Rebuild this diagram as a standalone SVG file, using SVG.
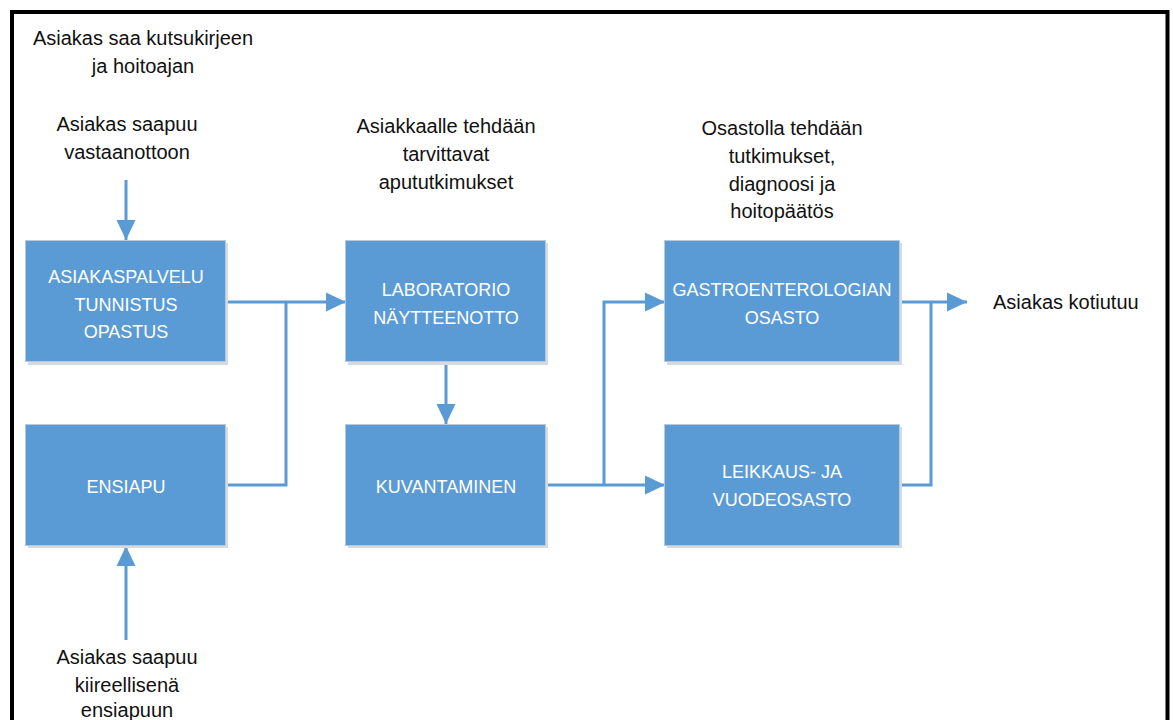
<svg xmlns="http://www.w3.org/2000/svg" width="1173" height="720" viewBox="0 0 1173 720">
  <defs>
    <marker id="arrow" markerUnits="userSpaceOnUse" markerWidth="20" markerHeight="20" viewBox="0 0 20 20" refX="20" refY="10" orient="auto">
      <path d="M0,0.5 L20,10 L0,19.5 Z" fill="#5b9bd5"/>
    </marker>
  </defs>
  <style>
    .box { fill: #5b9bd5; stroke: #b7c9dc; stroke-width: 1; }
    .shadow { fill: #d6d9de; }
    .btxt { font-family: "Liberation Sans", Arial, sans-serif; font-size: 18px; fill: #ffffff; text-anchor: middle; }
    .ltxt { font-family: "Liberation Sans", Arial, sans-serif; font-size: 20px; fill: #111111; text-anchor: middle; }
    .start { text-anchor: start; }
    .conn { fill: none; stroke: #5b9bd5; stroke-width: 3; }
  </style>
  <rect width="1173" height="720" fill="#ffffff"/>
  <!-- outer frame, open at the bottom edge -->
  <path d="M12,740 L12,12 L1167.5,12 L1167.5,740" fill="none" stroke="#000000" stroke-width="4"/>

  <!-- free-standing labels -->
  <g id="labels">
    <text class="ltxt" x="143" y="45">Asiakas saa kutsukirjeen</text>
    <text class="ltxt" x="143" y="73">ja hoitoajan</text>
    <text class="ltxt" x="127" y="131">Asiakas saapuu</text>
    <text class="ltxt" x="127" y="159">vastaanottoon</text>
    <text class="ltxt" x="446" y="133">Asiakkaalle tehdään</text>
    <text class="ltxt" x="446" y="161">tarvittavat</text>
    <text class="ltxt" x="446" y="189">apututkimukset</text>
    <text class="ltxt" x="782" y="135">Osastolla tehdään</text>
    <text class="ltxt" x="782" y="163">tutkimukset,</text>
    <text class="ltxt" x="782" y="191">diagnoosi ja</text>
    <text class="ltxt" x="782" y="218">hoitopäätös</text>
    <text class="ltxt start" x="993" y="309">Asiakas kotiutuu</text>
    <text class="ltxt" x="127" y="664">Asiakas saapuu</text>
    <text class="ltxt" x="127" y="692">kiireellisenä</text>
    <text class="ltxt" x="127" y="717">ensiapuun</text>
  </g>

  <!-- connectors -->
  <g id="connectors">
    <path class="conn" d="M126,180 L126,240" marker-end="url(#arrow)"/>
    <path class="conn" d="M126,640 L126,546" marker-end="url(#arrow)"/>
    <path class="conn" d="M226,302 L346,302" marker-end="url(#arrow)"/>
    <path class="conn" d="M226,485 L286,485 L286,302"/>
    <path class="conn" d="M446,362 L446,424" marker-end="url(#arrow)"/>
    <path class="conn" d="M546,485 L665,485" marker-end="url(#arrow)"/>
    <path class="conn" d="M604,485 L604,302 L665,302" marker-end="url(#arrow)"/>
    <path class="conn" d="M900,302 L967,302" marker-end="url(#arrow)"/>
    <path class="conn" d="M900,485 L931,485 L931,302"/>
  </g>

  <!-- nodes -->
  <g id="node-asiakaspalvelu">
    <rect class="shadow" x="28" y="243" width="200" height="122"/>
    <rect class="box" x="25.5" y="240.5" width="200" height="121"/>
    <text class="btxt" x="126" y="283">ASIAKASPALVELU</text>
    <text class="btxt" x="126" y="311">TUNNISTUS</text>
    <text class="btxt" x="126" y="338">OPASTUS</text>
  </g>
  <g id="node-ensiapu">
    <rect class="shadow" x="28" y="427" width="200" height="121"/>
    <rect class="box" x="25.5" y="424.5" width="200" height="121"/>
    <text class="btxt" x="126" y="493">ENSIAPU</text>
  </g>
  <g id="node-laboratorio">
    <rect class="shadow" x="348" y="243" width="200" height="122"/>
    <rect class="box" x="345.5" y="240.5" width="200" height="121"/>
    <text class="btxt" x="446" y="296">LABORATORIO</text>
    <text class="btxt" x="446" y="324">NÄYTTEENOTTO</text>
  </g>
  <g id="node-kuvantaminen">
    <rect class="shadow" x="348" y="427" width="200" height="121"/>
    <rect class="box" x="345.5" y="424.5" width="200" height="121"/>
    <text class="btxt" x="446" y="493">KUVANTAMINEN</text>
  </g>
  <g id="node-gastro">
    <rect class="shadow" x="667" y="243" width="235" height="122"/>
    <rect class="box" x="664.5" y="240.5" width="235" height="121"/>
    <text class="btxt" x="782" y="296">GASTROENTEROLOGIAN</text>
    <text class="btxt" x="782" y="324">OSASTO</text>
  </g>
  <g id="node-leikkaus">
    <rect class="shadow" x="667" y="427" width="235" height="121"/>
    <rect class="box" x="664.5" y="424.5" width="235" height="121"/>
    <text class="btxt" x="782" y="478">LEIKKAUS- JA</text>
    <text class="btxt" x="782" y="506">VUODEOSASTO</text>
  </g>
</svg>
